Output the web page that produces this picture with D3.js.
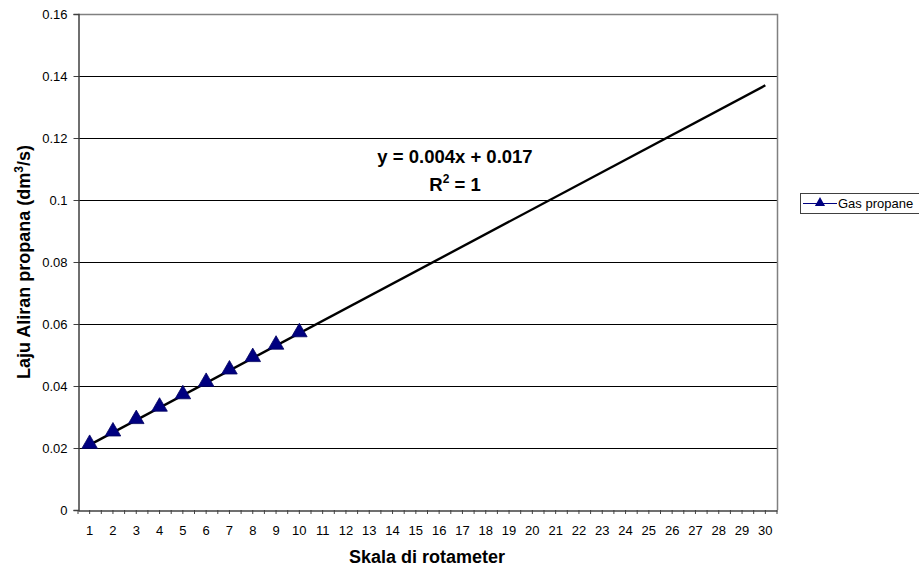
<!DOCTYPE html>
<html><head><meta charset="utf-8">
<script src="https://cdn.jsdelivr.net/npm/d3@7"></script>
<style>body{margin:0;background:#fff}svg{display:block}text{font-family:"Liberation Sans",Arial,sans-serif}</style>
</head><body>
<svg id="c" width="919" height="569"></svg>
<script>
const categories = d3.range(1, 31).map(String);
const seriesX = [1,2,3,4,5,6,7,8,9,10];
const seriesY = [0.021,0.025,0.029,0.033,0.037,0.041,0.045,0.049,0.053,0.057];
const trendX = [1, 30];
const trendY = [0.021, 0.137];
const yTicks = [0,0.02,0.04,0.06,0.08,0.1,0.12,0.14,0.16];
const yTickLabels = ["0","0.02","0.04","0.06","0.08","0.1","0.12","0.14","0.16"];
const seriesName = "Gas propane";
const equation = "y = 0.004x + 0.017";

const svg = d3.select("#c");
const L = 78, R = 777, T = 14, B = 510;
const x = d3.scaleBand().domain(categories).range([L, R]).padding(0);
const y = d3.scaleLinear().domain([0, 0.16]).range([B, T]);
const cx = v => x(String(v)) + x.bandwidth()/2;

// gridlines
svg.append("g").selectAll("line").data(yTicks.slice(1)).join("line")
  .attr("x1", L).attr("x2", R).attr("y1", d=>Math.round(y(d))+0.5).attr("y2", d=>Math.round(y(d))+0.5)
  .attr("stroke", "#000").attr("stroke-width", 1);
// plot border top/right
svg.append("path").attr("d", `M${L},${T+0.5}H${R+0.5}V${B}`).attr("fill","none").attr("stroke","#808080").attr("stroke-width",1.5);

// y axis
const yAxis = d3.axisLeft(y).tickValues(yTicks).tickFormat((d,i)=>yTickLabels[i]).tickSize(5).tickPadding(6);
const gy = svg.append("g").attr("transform", `translate(${L+0.5},0)`).call(yAxis);
gy.select(".domain").attr("stroke","#404040").attr("stroke-width",1.5);
gy.selectAll(".tick line").attr("stroke","#404040");
gy.selectAll("text").attr("font-size", 13).attr("fill","#000").attr("font-family","Liberation Sans, Arial, sans-serif");

// x axis
const xAxis = d3.axisBottom(x).tickSize(0).tickPadding(15);
const gx = svg.append("g").attr("transform", `translate(0,${B+0.5})`).call(xAxis);
gx.select(".domain").attr("stroke","#404040").attr("stroke-width",1.5);
gx.selectAll("text").attr("font-size", 13).attr("fill","#000").attr("font-family","Liberation Sans, Arial, sans-serif");
// half-category ticks
const halfTicks = d3.range(0, categories.length*2+1).map(i => L + i*x.bandwidth()/2);
svg.append("g").selectAll("line").data(halfTicks).join("line")
  .attr("x1", d=>d).attr("x2", d=>d).attr("y1", B).attr("y2", B+4)
  .attr("stroke","#404040").attr("stroke-width",1);

// series line
const pts = seriesX.map((v,i)=>[cx(v), y(seriesY[i])]);
svg.append("path").attr("d", d3.line()(pts)).attr("fill","none").attr("stroke","#000080").attr("stroke-width",1);
// trend line
const tpts = trendX.map((v,i)=>[cx(v), y(trendY[i])]);
svg.append("path").attr("d", d3.line()(tpts)).attr("fill","none").attr("stroke","#000").attr("stroke-width",2.4);

// markers
const tri = d3.symbol().type(d3.symbolTriangle).size(105);
svg.append("g").selectAll("path").data(pts).join("path")
  .attr("d", tri).attr("transform", d=>`translate(${d[0]},${d[1]-1})`)
  .attr("fill","#000080").attr("stroke","#000060").attr("stroke-width",0.8);

// equation
svg.append("text").attr("x", 455).attr("y", 163).attr("text-anchor","middle")
  .attr("font-size", 18.5).attr("font-weight","bold").text(equation);
const r2 = svg.append("text").attr("x", 455).attr("y", 191).attr("text-anchor","middle")
  .attr("font-size", 18.5).attr("font-weight","bold");
r2.append("tspan").text("R");
r2.append("tspan").attr("dy",-8).attr("font-size",12).text("2");
r2.append("tspan").attr("dy",8).text(" = 1");

// axis titles
svg.append("text").attr("x", 427).attr("y", 563).attr("text-anchor","middle")
  .attr("font-size", 18).attr("font-weight","bold").text("Skala di rotameter");
const yt = svg.append("text").attr("transform","translate(30,262) rotate(-90)").attr("text-anchor","middle")
  .attr("font-size", 18).attr("font-weight","bold");
yt.append("tspan").text("Laju Aliran propana (dm");
yt.append("tspan").attr("dy",-7).attr("font-size",12).text("3");
yt.append("tspan").attr("dy",7).text("/s)");

// legend
const lg = svg.append("g");
lg.append("rect").attr("x", 800.5).attr("y", 193.5).attr("width", 125).attr("height", 20)
  .attr("fill","#fff").attr("stroke","#404040").attr("stroke-width",1);
lg.append("line").attr("x1", 803).attr("x2", 837).attr("y1", 203.5).attr("y2", 203.5).attr("stroke","#000080").attr("stroke-width",1.2);
lg.append("path").attr("d", d3.symbol().type(d3.symbolTriangle).size(45)).attr("transform","translate(820,203)").attr("fill","#000080");
lg.append("text").attr("x", 838).attr("y", 208).attr("font-size", 13).text(seriesName);
</script>
</body></html>
